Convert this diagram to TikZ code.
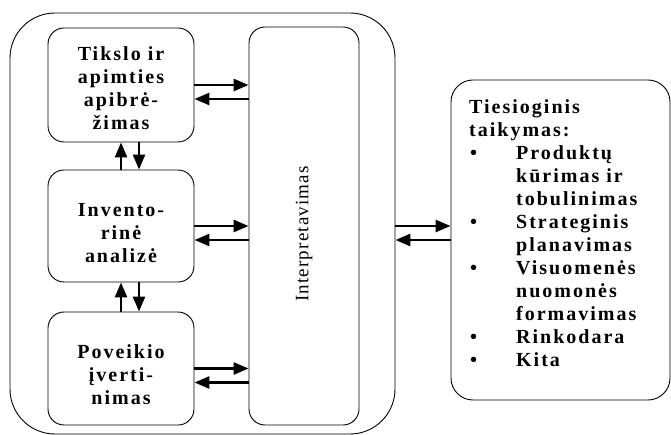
\documentclass[tikz,border=0pt]{standalone}
\usepackage{fontspec}
\setmainfont{Liberation Serif}
\newfontfamily\spacedbf[LetterSpace=10]{Liberation Serif}
\newfontfamily\spacedrm[LetterSpace=6]{Liberation Serif}
\usetikzlibrary{arrows.meta,calc}
\newcommand\bulletitem{\makebox[47pt][l]{\hspace*{1pt}\textbullet}}
\newcommand\contitem{\hspace*{47pt}}
\begin{document}
\begin{tikzpicture}[x=1pt,y=-1pt,
  box/.style={draw, line width=0.9pt, rounded corners=16pt, inner sep=0pt},
  lbl/.style={font=\spacedbf\bfseries\fontsize{20}{23}\selectfont, align=center, inner sep=0pt},
  flow/.style={line width=2.6pt, -{Triangle[length=15pt,width=12pt]}},
]
\useasboundingbox (0,0) rectangle (671,435);

% frames
\node[box, rounded corners=45pt, minimum width=385pt, minimum height=421pt] (outer) at (202.5,223.5) {};
\node[box, minimum width=146pt, minimum height=114pt] (b1) at (121,85) {};
\node[box, minimum width=146pt, minimum height=112pt] (b2) at (121,226) {};
\node[box, minimum width=146pt, minimum height=113pt] (b3) at (121,368.5) {};
\node[box, minimum width=110pt, minimum height=398pt] (interp) at (304,226) {};
\node[box, rounded corners=22pt, minimum width=219pt, minimum height=320pt] (rb) at (560.5,240) {};

% texts
\node[lbl] (t1) at (121,88) {Tikslo ir\\apimties\\apibrė-\\žimas};
\node[lbl] (t2) at (121,233) {Invento-\\rinė\\analizė};
\node[lbl] (t3) at (121,375) {Poveikio\\įverti-\\nimas};
\node[font=\spacedrm\fontsize{19}{20}\selectfont, rotate=90, inner sep=0pt] (t4) at (304,234) {Interpretavimas};
\node[lbl, align=left, anchor=north west] (t5) at (469,99) {Tiesioginis\\taikymas:\\
  \bulletitem Produktų\\\contitem kūrimas ir\\\contitem tobulinimas\\
  \bulletitem Strateginis\\\contitem planavimas\\
  \bulletitem Visuomenės\\\contitem nuomonės\\\contitem formavimas\\
  \bulletitem Rinkodara\\
  \bulletitem Kita};

% horizontal links to the interpretation column
\foreach \b in {b1,b2,b3}{
  \draw[flow] (\b.east) -- (\b.east -| interp.west);
  \draw[flow] ($(\b.east -| interp.west)+(0,14)$) -- ($(\b.east)+(0,14)$);
}

% vertical links between stages
\draw[flow] (b2.north) -- (b1.south);
\draw[flow] ($(b1.south)+(18,0)$) -- ($(b2.north)+(18,0)$);
\draw[flow] (b3.north) -- (b2.south);
\draw[flow] ($(b2.south)+(18,0)$) -- ($(b3.north)+(18,0)$);

% links to the application box
\draw[flow] (outer.east |- b2.center) -- (rb.west |- b2.center);
\draw[flow] ($(rb.west |- b2.center)+(0,14)$) -- ($(outer.east |- b2.center)+(0,14)$);
\end{tikzpicture}
\end{document}
